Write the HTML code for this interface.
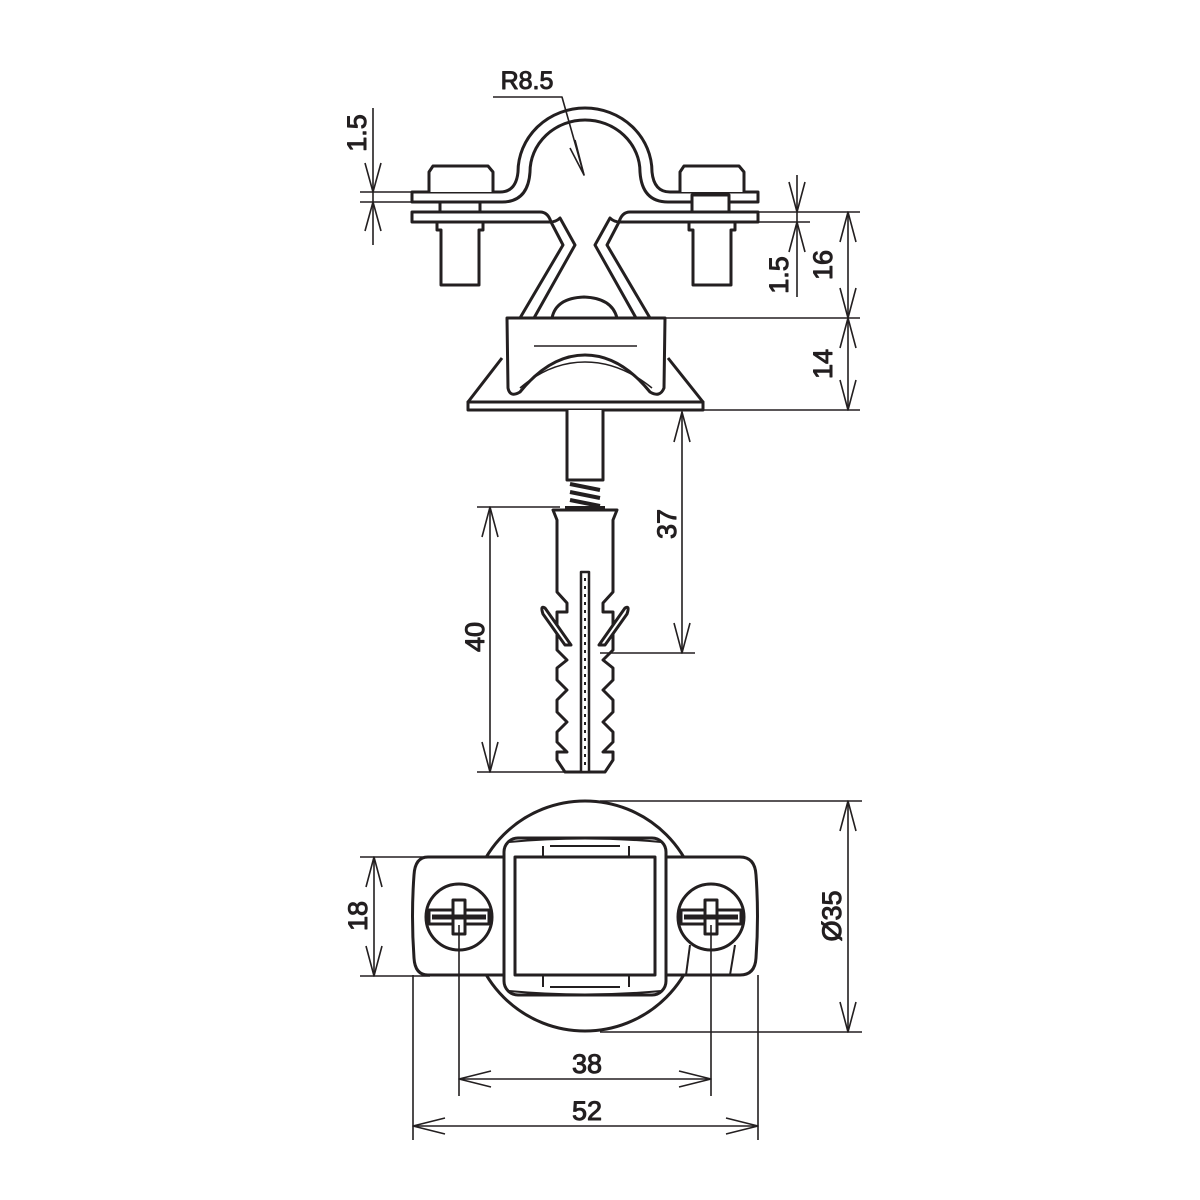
<!DOCTYPE html>
<html><head><meta charset="utf-8"><style>
html,body{margin:0;padding:0;background:#fff}
svg{display:block}
text{font-family:"Liberation Sans",sans-serif;fill:#231f20}
</style></head><body>
<svg width="1200" height="1200" viewBox="0 0 1200 1200" xmlns="http://www.w3.org/2000/svg">
<g fill="none" stroke="#231f20" stroke-linejoin="round">
<g stroke-width="3">
<path d="M412,192 L500,192 Q516,192 518,172 A67,64 0 0 1 652,172 Q654,192 670,192 L758,192 L758,202 L668,202 Q642,202 640,172 A55,52 0 0 0 530,172 Q528,202 502,202 L412,202 Z" fill="#fff"/>
<path d="M412,212 L540,212 Q548,212 551,222 L563,245 L520,318 L534,318 L575,245 L560,218 Q556,222 550,222 L412,222 Z" fill="#fff"/>
<path d="M758,212 L630,212 Q622,212 619,222 L607,245 L650,318 L636,318 L595,245 L610,218 Q614,222 620,222 L758,222 Z" fill="#fff"/>
<path d="M429,192 L429,172 L433,166 L488,166 L493,172 L493,192" fill="#fff"/>
<path d="M680,192 L680,172 L684,166 L739,166 L744,172 L744,192" fill="#fff"/>
<rect x="440" y="202" width="40" height="10" fill="#fff"/>
<rect x="692" y="195" width="37" height="17" fill="#fff"/>
<path d="M437,222 L437,230 L441,230 L441,285 L479,285 L479,230 L483,230 L483,222"/>
<path d="M689,222 L689,230 L693,230 L693,285 L731,285 L731,230 L735,230 L735,222"/>
<path d="M552,318 Q556,298 584,297 Q612,298 617,318" fill="#fff"/>
<path d="M502,358 L468,402 L703,402 L668,358" fill="#fff"/>
<rect x="468" y="402" width="235" height="8" fill="#fff"/>
<path d="M507,318 L665,318 L664,388 Q660,398 650,392 Q620,355 585,355 Q550,355 520,392 Q510,398 508,388 Z" fill="#fff"/>
<path d="M567,410 L567,480 L603,480 L603,410" fill="#fff"/>
</g>
<path d="M534,346 L637,346" stroke="#231f20" stroke-width="1.5"/>
<path d="M520,388 Q550,362 585,362 Q620,362 652,388" stroke="#231f20" stroke-width="1.5" fill="none"/>
<g stroke="#231f20" stroke-width="4">
<path d="M570,484 L600,490"/><path d="M570,492 L600,498"/><path d="M570,500 L600,506"/>
</g>
<path d="M565,508 L605,508" stroke="#231f20" stroke-width="4"/>
<path d="M553,510 L617,510 L613,520 L613,592 L603,603 L603,612 L613,612 L613,650 L603,660 L613,668 L613,680 L603,690 L613,700 L613,712 L603,722 L613,732 L613,742 L603,752 L613,752 L613,760 L605,772 L565,772 L557,760 L557,752 L567,752 L557,742 L557,732 L567,722 L557,712 L557,700 L567,690 L557,680 L557,668 L567,660 L557,650 L557,612 L567,612 L567,603 L557,592 L557,520 Z" fill="#fff" stroke="#231f20" stroke-width="3"/>
<rect x="581" y="572" width="8" height="200" fill="#fff" stroke="#231f20" stroke-width="2.5"/>
<path d="M585,578 L585,770" stroke="#231f20" stroke-width="2" stroke-dasharray="3,5"/>
<path d="M545,608 Q540,605 543,614 L565,645 L571,645 Z" fill="#fff" stroke="#231f20" stroke-width="3"/>
<path d="M625,608 Q630,605 627,614 L605,645 L599,645 Z" fill="#fff" stroke="#231f20" stroke-width="3"/>

<g stroke="#231f20" stroke-width="3" fill="#fff">
<circle cx="585" cy="916" r="115"/>
<path d="M428,857 L740,857 Q755,857 756,875 Q759,916 756,958 Q755,975 740,975 L428,975 Q415,975 414,958 Q411,916 414,875 Q415,857 428,857 Z"/>
<rect x="504" y="838" width="162" height="157" rx="14"/>
<rect x="515" y="857" width="140" height="118"/>
<circle cx="459" cy="917" r="33"/>
<circle cx="711" cy="917" r="33"/>
</g>
<g stroke="#231f20" stroke-width="2" fill="none">
<path d="M509,842 Q585,835 661,842"/><path d="M509,991 Q585,998 661,991"/>
<path d="M543,846 L543,857"/><path d="M629,846 L629,857"/><path d="M550,846 L620,846"/>
<path d="M543,976 L543,987"/><path d="M629,976 L629,987"/><path d="M550,987 L620,987"/>
<path d="M690,945 L686,975"/><path d="M735,945 L730,975"/>
</g>
<g stroke="#231f20" stroke-width="3" fill="#fff">
<rect x="429" y="910" width="60" height="14"/><rect x="681" y="910" width="60" height="14"/>
<rect x="453" y="900" width="12" height="34"/><rect x="705" y="900" width="12" height="34"/>
</g>
<g stroke="#231f20" stroke-width="5">
<path d="M432,917 L486,917"/><path d="M684,917 L738,917"/>
</g>

<g stroke="#231f20" stroke-width="1.6" fill="none">
<path d="M360,192 L412,192 M360,202 L412,202 M373,108 L373,245"/>
<polyline points="365,163 373,192 381,163"/><polyline points="365,231 373,202 381,231"/>
<path d="M493,97 L562,97 L584,175"/>
<polyline points="570,148 584,175 575,140"/>
<path d="M758,212 L860,212 M758,222 L810,222 M797,175 L797,297"/>
<polyline points="789,182 797,212 805,182"/><polyline points="789,252 797,222 805,252"/>
<path d="M665,318 L860,318 M703,410 L860,410 M848,212 L848,410"/>
<polyline points="840,242 848,212 856,242"/><polyline points="840,288 848,318 856,288"/>
<polyline points="840,348 848,318 856,348"/><polyline points="840,380 848,410 856,380"/>
<path d="M600,653 L695,653 M682,412 L682,653"/>
<polyline points="674,442 682,412 690,442"/><polyline points="674,623 682,653 690,623"/>
<path d="M477,507 L560,507 M477,772 L570,772 M490,507 L490,772"/>
<polyline points="482,537 490,507 498,537"/><polyline points="482,742 490,772 498,742"/>
<path d="M360,857 L430,857 M360,976 L430,976 M374,857 L374,976"/>
<polyline points="366,887 374,857 382,887"/><polyline points="366,946 374,976 382,946"/>
<path d="M600,801 L862,801 M600,1032 L862,1032 M848,801 L848,1032"/>
<polyline points="840,831 848,801 856,831"/><polyline points="840,1002 848,1032 856,1002"/>
<path d="M459,925 L459,1096 M711,925 L711,1096 M459,1079 L711,1079"/>
<polyline points="491,1071 459,1079 491,1087"/><polyline points="679,1071 711,1079 679,1087"/>
<path d="M413,975 L413,1140 M758,975 L758,1140 M413,1126 L758,1126"/>
<polyline points="445,1118 413,1126 445,1134"/><polyline points="726,1118 758,1126 726,1134"/>
</g>
<text x="527" y="89" font-size="25" text-anchor="middle">R8.5</text>
<text transform="translate(366,133) rotate(-90)" font-size="27" text-anchor="middle">1.5</text>
<text transform="translate(788,275) rotate(-90)" font-size="27" text-anchor="middle">1.5</text>
<text transform="translate(832,265) rotate(-90)" font-size="27" text-anchor="middle">16</text>
<text transform="translate(832,364) rotate(-90)" font-size="27" text-anchor="middle">14</text>
<text transform="translate(676,524) rotate(-90)" font-size="27" text-anchor="middle">37</text>
<text transform="translate(484,637) rotate(-90)" font-size="27" text-anchor="middle">40</text>
<text transform="translate(367,916) rotate(-90)" font-size="27" text-anchor="middle">18</text>
<text transform="translate(841,916) rotate(-90)" font-size="27" text-anchor="middle">Ø35</text>
<text x="587" y="1073" font-size="27" text-anchor="middle">38</text>
<text x="587" y="1120" font-size="27" text-anchor="middle">52</text>
</g>
</svg>
</body></html>
